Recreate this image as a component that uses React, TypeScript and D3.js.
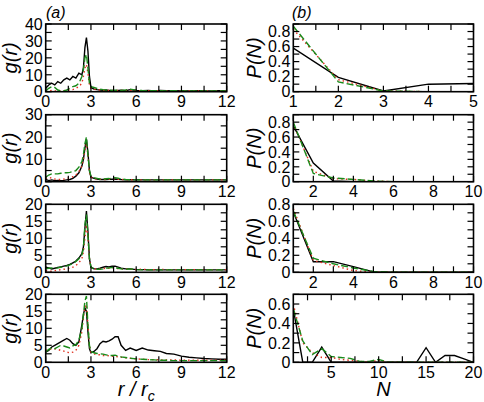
import React from 'react';
import * as d3 from 'd3';

// r / r_c grid shared by every g(r) curve
const rGrid = [
  0, 0.2, 0.4, 0.6, 0.8, 1.0, 1.2, 1.4, 1.6, 1.8, 2.0, 2.2, 2.4,
  2.5, 2.6, 2.7, 2.8, 2.9, 3.0,
  3.2, 3.4, 3.6, 3.8, 4.0, 4.2, 4.4, 4.6, 4.8, 5.0,
  5.3, 5.6, 6.0, 6.4, 6.8, 7.2, 7.6, 8.0, 8.5, 9.0, 9.5, 10, 10.5, 11, 11.5, 12,
];

// panel (a), row 1
const gA1Black = [
  2, 4, 5, 4, 6, 5, 7, 8, 7, 9, 8, 11, 10,
  14, 26, 32, 24, 9, 2.5,
  1.5, 1.2, 1.0, 0.8, 1.0, 0.7, 0.8, 0.6, 0.8, 0.9,
  0.6, 1.2, 0.7, 0.6, 0.8, 0.5, 0.7, 0.6, 0.5, 0.6, 0.5, 0.6, 0.5, 0.5, 0.6, 0.5,
];
const gA1Red = [
  0.3, 0.5, 0.8, 0.5, 0.4, 0.5, 0.6, 0.8, 1.0, 1.2, 2, 3, 5,
  9, 14, 16, 11, 4, 2,
  1.5, 1.2, 1.0, 0.9, 0.8, 0.8, 0.7, 0.8, 0.7, 0.7,
  0.8, 0.9, 0.7, 0.6, 0.6, 0.6, 0.6, 0.5, 0.6, 0.5, 0.5, 0.5, 0.5, 0.5, 0.5, 0.5,
];
const gA1Green = [
  0.5, 2, 3, 2.5, 1, 0.5, 0.5, 1, 2, 3, 3.5, 5, 9,
  13, 20, 22, 14, 5, 3,
  2.5, 2, 1.5, 1.2, 1.0, 1.0, 0.8, 0.9, 0.8, 0.8,
  1.0, 1.5, 0.9, 0.7, 0.6, 0.6, 0.6, 0.5, 0.6, 0.5, 0.5, 0.5, 0.5, 0.5, 0.5, 0.5,
];

// panel (a), row 2
const gA2Black = [
  1, 0.5, 0.8, 0.5, 0.6, 0.5, 0.6, 0.8, 1.0, 1.5, 2.5, 4, 7,
  10, 15, 19, 13, 5, 2,
  1.5, 1.2, 1.0, 1.0, 1.0, 1.1, 1.1, 1.2, 1.1, 1.0,
  0.9, 0.9, 0.9, 0.8, 0.8, 0.8, 0.8, 0.8, 0.8, 0.8, 0.8, 0.8, 0.8, 0.8, 0.8, 0.8,
];
const gA2Red = [
  1.5, 2, 1.5, 1.2, 1, 1, 1.2, 1.5, 1.8, 2.2, 3, 4.5, 7,
  10, 14, 17, 12, 4, 2,
  1.5, 1.2, 1.1, 1.0, 1.0, 1.1, 1.2, 1.2, 1.1, 1.0,
  0.9, 0.9, 0.9, 0.8, 0.8, 0.8, 0.8, 0.8, 0.8, 0.8, 0.8, 0.8, 0.8, 0.8, 0.8, 0.8,
];
const gA2Green = [
  2, 3, 3.5, 3.5, 3.5, 3.8, 4, 4, 4.2, 4.5, 5, 6.5, 9,
  12, 17, 20, 12, 5, 2.5,
  1.8, 1.5, 1.2, 1.2, 1.3, 1.4, 1.6, 1.8, 1.6, 1.2,
  1.0, 0.9, 0.8, 0.8, 0.8, 0.8, 0.8, 0.8, 0.8, 0.8, 0.8, 0.8, 0.8, 0.8, 0.8, 0.8,
];

// panel (a), row 3
const gA3Black = [
  1.5, 1.3, 1.0, 1.2, 1.4, 1.6, 1.8, 2.0, 2.3, 2.8, 3.3, 4.2, 5.5,
  7.5, 13, 18, 12, 4, 1.5,
  1.0, 1.0, 1.2, 1.5, 1.7, 1.6, 1.8, 1.8, 1.5, 1.2,
  1.0, 1.0, 0.8, 0.8, 0.7, 0.7, 0.7, 0.7, 0.7, 0.7, 0.7, 0.7, 0.7, 0.7, 0.7, 0.7,
];
const gA3Red = [
  0.5, 0.4, 0.3, 0.5, 0.6, 0.8, 0.9, 1.0, 1.2, 1.5, 2.0, 2.8, 4.0,
  6, 10, 14, 10, 4, 1.5,
  1.0, 1.0, 1.0, 1.1, 1.2, 1.2, 1.3, 1.2, 1.1, 1.0,
  1.0, 0.9, 0.8, 0.9, 0.8, 0.8, 0.9, 0.8, 0.8, 0.8, 0.8, 0.8, 0.8, 0.8, 0.8, 0.8,
];
const gA3Green = [
  1.0, 1.2, 1.3, 1.2, 1.3, 1.5, 1.7, 1.9, 2.2, 2.6, 3.2, 4.0, 5.2,
  7, 14, 17, 11, 4, 1.5,
  1.0, 0.9, 0.9, 1.0, 1.2, 1.3, 1.4, 1.3, 1.2, 1.0,
  0.9, 1.0, 0.8, 0.7, 0.7, 0.7, 0.7, 0.7, 0.7, 0.7, 0.7, 0.7, 0.7, 0.7, 0.7, 0.7,
];

// panel (a), row 4
const gA4Black = [
  3, 3.5, 4.5, 5, 5.5, 6, 6.5, 7, 6.5, 5.5, 5, 6, 11,
  14, 16, 15, 9, 4, 2.8,
  3.2, 4, 5.5, 6.2, 6, 6.3, 6.8, 7.5, 7.5, 5,
  3.5, 4.2, 3.5, 4.2, 3.6, 3.4, 3.2, 2.6, 2.4, 1.8, 1.5, 1.3, 1.1, 1.0, 0.9, 0.9,
];
const gA4Red = [
  3.5, 3.8, 4.0, 4.0, 3.8, 3.5, 3.3, 3.0, 2.8, 3.0, 3.5, 5.0, 9,
  13, 16, 17, 11, 5, 3,
  2.5, 2.2, 2.2, 2.0, 2.0, 1.9, 1.8, 1.7, 1.6, 1.5,
  1.3, 1.2, 1.0, 0.9, 0.8, 0.8, 0.7, 0.7, 0.7, 0.6, 0.6, 0.6, 0.6, 0.6, 0.6, 0.6,
];
const gA4Green = [
  3.0, 3.8, 4.2, 4.0, 4.5, 5.0, 4.8, 4.5, 4.2, 4.8, 5.2, 6.5, 10,
  14, 18, 19.5, 11, 5, 3.2,
  2.8, 2.6, 2.5, 2.4, 2.2, 2.0, 2.0, 2.1, 1.8, 1.6,
  1.4, 1.2, 1.0, 0.9, 0.8, 0.7, 0.6, 0.6, 0.5, 0.5, 0.5, 0.5, 0.5, 0.5, 0.5, 0.5,
];

// panel (b): cluster size distributions
const nB1 = [1, 2, 3, 4, 5];
const pB1Black = [0.58, 0.19, 0.01, 0.1, 0.11];
const pB1Red = [0.83, 0.16, 0.01, 0, 0];
const pB1Green = [0.87, 0.13, 0.01, 0, 0];

const nB2 = [1, 2, 3, 4, 5, 6, 7, 8, 9, 10];
const pB2Black = [0.75, 0.25, 0.01, 0, 0, 0, 0, 0, 0, 0];
const pB2Red = [0.78, 0.14, 0.04, 0.03, 0.01, 0, 0, 0, 0, 0];
const pB2Green = [0.8, 0.11, 0.05, 0.03, 0.01, 0, 0, 0, 0, 0];

const nB3 = [1, 2, 3, 4, 5, 6, 7, 8, 9, 10];
const pB3Black = [0.71, 0.125, 0.125, 0.066, 0.005, 0, 0, 0, 0, 0];
const pB3Red = [0.75, 0.14, 0.08, 0.02, 0, 0, 0, 0, 0, 0];
const pB3Green = [0.72, 0.165, 0.1, 0.05, 0.01, 0, 0, 0, 0, 0];

const nB4 = [1, 2, 3, 4, 5, 6, 7, 8, 9, 10, 11, 12, 13, 14, 15, 16, 17, 18, 19, 20];
const pB4Black = [0.55, 0, 0, 0.157, 0, 0, 0, 0, 0, 0, 0, 0, 0, 0, 0.15, 0, 0.07, 0.07, 0.035, 0];
const pB4Red = [0.6, 0.2, 0.1, 0.05, 0.05, 0.03, 0.02, 0.01, 0, 0.02, 0, 0, 0, 0, 0, 0, 0, 0, 0, 0];
const pB4Green = [0.55, 0.22, 0.08, 0.14, 0.06, 0.05, 0.04, 0.01, 0.01, 0.03, 0, 0, 0, 0, 0, 0, 0, 0, 0, 0];

// tick labels
const gXLabels = [0, 3, 6, 9, 12];
const gYLabels40 = [0, 10, 20, 30, 40];
const gYLabels30 = [0, 10, 20, 30];
const gYLabels20 = [0, 5, 10, 15, 20];
const pYLabels = ['0', '0.2', '0.4', '0.6', '0.8'];
const pYLabelsLast = ['0', '0.2', '0.4', '0.6'];
const nXLabels5 = [1, 2, 3, 4, 5];
const nXLabels10 = [2, 4, 6, 8, 10];
const nXLabels20 = [5, 10, 15, 20];

const lineStyles = [
  { color: '#000000', dash: undefined },
  { color: '#e0301e', dash: '1.5,3' },
  { color: '#1a8a1a', dash: '7,3' },
];

const FONT = '"Liberation Sans", Arial, sans-serif';

type PanelSpec = {
  id: string;
  x: number[];
  series: number[][];
  xDomain: [number, number];
  yDomain: [number, number];
  xStep: number;
  yStep: number;
  xLabels: number[];
  yLabels: (number | string)[];
  left: number;
  right: number;
  top: number;
  bottom: number;
};

const rows = [
  { top: 24, bottom: 91.7 },
  { top: 114.7, bottom: 181.7 },
  { top: 204.3, bottom: 272.3 },
  { top: 294.3, bottom: 362.3 },
];
const colA = { left: 45.7, right: 226.7 };
const colB = { left: 293.3, right: 473.5 };

const panels: PanelSpec[] = [
  { id: 'a1', x: rGrid, series: [gA1Black, gA1Red, gA1Green], xDomain: [0, 12], yDomain: [0, 40], xStep: 1.5, yStep: 5, xLabels: gXLabels, yLabels: gYLabels40, ...colA, ...rows[0] },
  { id: 'a2', x: rGrid, series: [gA2Black, gA2Red, gA2Green], xDomain: [0, 12], yDomain: [0, 30], xStep: 1.5, yStep: 5, xLabels: gXLabels, yLabels: gYLabels30, ...colA, ...rows[1] },
  { id: 'a3', x: rGrid, series: [gA3Black, gA3Red, gA3Green], xDomain: [0, 12], yDomain: [0, 20], xStep: 1.5, yStep: 2.5, xLabels: gXLabels, yLabels: gYLabels20, ...colA, ...rows[2] },
  { id: 'a4', x: rGrid, series: [gA4Black, gA4Red, gA4Green], xDomain: [0, 12], yDomain: [0, 20], xStep: 1.5, yStep: 2.5, xLabels: gXLabels, yLabels: gYLabels20, ...colA, ...rows[3] },
  { id: 'b1', x: nB1, series: [pB1Black, pB1Red, pB1Green], xDomain: [1, 5], yDomain: [0, 0.9], xStep: 0.5, yStep: 0.1, xLabels: nXLabels5, yLabels: pYLabels, ...colB, ...rows[0] },
  { id: 'b2', x: nB2, series: [pB2Black, pB2Red, pB2Green], xDomain: [1, 10], yDomain: [0, 0.9], xStep: 1, yStep: 0.1, xLabels: nXLabels10, yLabels: pYLabels, ...colB, ...rows[1] },
  { id: 'b3', x: nB3, series: [pB3Black, pB3Red, pB3Green], xDomain: [1, 10], yDomain: [0, 0.8], xStep: 1, yStep: 0.1, xLabels: nXLabels10, yLabels: pYLabels, ...colB, ...rows[2] },
  { id: 'b4', x: nB4, series: [pB4Black, pB4Red, pB4Green], xDomain: [1, 20], yDomain: [0, 0.7], xStep: 2.5, yStep: 0.1, xLabels: nXLabels20, yLabels: pYLabelsLast, ...colB, ...rows[3] },
];

const TICK = 6;

function Panel({ p }: { p: PanelSpec }) {
  const x = d3.scaleLinear().domain(p.xDomain).range([p.left, p.right]);
  const y = d3.scaleLinear().domain(p.yDomain).range([p.bottom, p.top]);
  const line = d3.line<number>().x((_, i) => x(p.x[i])).y((d) => y(d));

  // tick positions along the frame
  const x0 = Math.ceil(p.xDomain[0] / p.xStep) * p.xStep;
  const xTicks = d3.range(x0, p.xDomain[1] + 1e-6, p.xStep);
  const yTicks = d3.range(p.yDomain[0], p.yDomain[1] + 1e-6, p.yStep);

  return (
    <g>
      <defs>
        <clipPath id={`clip-${p.id}`}>
          <rect x={p.left} y={p.top} width={p.right - p.left} height={p.bottom - p.top} />
        </clipPath>
      </defs>
      <g clipPath={`url(#clip-${p.id})`}>
        {p.series.map((s, i) => (
          <path
            key={i}
            d={line(s) || ''}
            fill="none"
            stroke={lineStyles[i].color}
            strokeWidth={1.4}
            strokeDasharray={lineStyles[i].dash}
          />
        ))}
      </g>
      <g stroke="#000" strokeWidth={1.2}>
        {xTicks.map((t) => (
          <g key={`x${t}`}>
            <line x1={x(t)} x2={x(t)} y1={p.bottom} y2={p.bottom - TICK} />
            <line x1={x(t)} x2={x(t)} y1={p.top} y2={p.top + TICK} />
          </g>
        ))}
        {yTicks.map((t) => (
          <g key={`y${t}`}>
            <line x1={p.left} x2={p.left + TICK} y1={y(t)} y2={y(t)} />
            <line x1={p.right} x2={p.right - TICK} y1={y(t)} y2={y(t)} />
          </g>
        ))}
      </g>
      <rect
        x={p.left}
        y={p.top}
        width={p.right - p.left}
        height={p.bottom - p.top}
        fill="none"
        stroke="#000"
        strokeWidth={1.6}
      />
      <g fontFamily={FONT} fontSize={16} fill="#000">
        {p.xLabels.map((t) => (
          <text key={`xl${t}`} x={x(t)} y={p.bottom + 15.5} textAnchor="middle">
            {t}
          </text>
        ))}
        {p.yLabels.map((t) => (
          <text key={`yl${t}`} x={p.left - 3} y={y(+t)} dy="0.36em" textAnchor="end">
            {t}
          </text>
        ))}
      </g>
    </g>
  );
}

export default function App() {
  return (
    <svg
      width={484}
      height={402}
      style={{ position: 'absolute', left: 0, top: 0, background: '#fff' }}
    >
      <rect width={484} height={402} fill="#fff" />
      {panels.map((p) => (
        <Panel key={p.id} p={p} />
      ))}
      <g fontFamily={FONT} fontStyle="italic" fill="#000">
        <text x={46} y={18} fontSize={16}>(a)</text>
        <text x={292} y={18} fontSize={16}>(b)</text>
        {rows.map((r, i) => (
          <g key={i}>
            <text
              transform={`translate(17,${(r.top + r.bottom) / 2}) rotate(-90)`}
              textAnchor="middle"
              fontSize={20}
            >
              g(r)
            </text>
            <text
              transform={`translate(261,${(r.top + r.bottom) / 2}) rotate(-90)`}
              textAnchor="middle"
              fontSize={20}
            >
              P(N)
            </text>
          </g>
        ))}
        <text x={(colA.left + colA.right) / 2} y={396} textAnchor="middle" fontSize={20}>
          r / r<tspan fontSize={14} dy={5}>c</tspan>
        </text>
        <text x={(colB.left + colB.right) / 2} y={396} textAnchor="middle" fontSize={20}>
          N
        </text>
      </g>
    </svg>
  );
}
